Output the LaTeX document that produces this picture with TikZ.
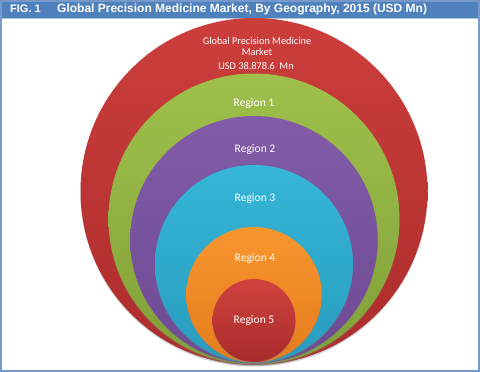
\documentclass[tikz,border=0pt]{standalone}
\usepackage{fontspec}
\setmainfont{Carlito}
\newfontfamily\headfont{Liberation Sans}
\usetikzlibrary{shadows,positioning}
\definecolor{headblue}{RGB}{79,129,189}
\definecolor{frameblue}{RGB}{118,152,202}
\definecolor{outtop}{RGB}{204,62,60}
\definecolor{outbot}{RGB}{172,44,44}
\definecolor{grntop}{RGB}{160,192,76}
\definecolor{grnbot}{RGB}{128,160,56}
\definecolor{purtop}{RGB}{130,92,168}
\definecolor{purbot}{RGB}{108,74,146}
\definecolor{cyntop}{RGB}{54,182,216}
\definecolor{cynbot}{RGB}{40,156,190}
\definecolor{orgtop}{RGB}{248,150,46}
\definecolor{orgbot}{RGB}{228,124,30}
\definecolor{r5top}{RGB}{208,66,62}
\definecolor{r5bot}{RGB}{168,44,44}

\begin{document}
\begin{tikzpicture}[x=1pt,y=-1pt,
  ring/.style={circle, draw=none, inner sep=0pt, minimum size=#1,
    drop shadow={opacity=0.35, shadow xshift=0pt, shadow yshift=-1.5pt}},
  lbl/.style={text=white, font=\fontsize{11.6}{13}\selectfont, align=center, inner sep=0pt},
  toplbl/.style={lbl, font=\fontsize{10.3}{11.5}\selectfont},
  headtxt/.style={text=white, font=\headfont\bfseries\fontsize{12}{14}\selectfont, anchor=west, inner sep=0pt}
]
\useasboundingbox (0,0) rectangle (480,372);
% frame and header
\fill[white] (0,0) rectangle (480,372);
\fill[headblue!45] (0,17) rectangle (480,19);
\fill[headblue] (0,0) rectangle (480,17.5);
\draw[frameblue, line width=1.6pt] (0.8,0.8) rectangle (479.2,371.2);
\node[headtxt, font=\headfont\bfseries\fontsize{11}{14}\selectfont] (fig) at (10,9) {FIG. 1};
\node[headtxt] (title) at (57,9) {Global Precision Medicine Market, By Geography, 2015 (USD Mn)};

% nested circles
\node[ring=347pt, top color=outtop, bottom color=outbot] (total) at (254,191.5) {};
\node[ring=291pt, top color=grntop, bottom color=grnbot] (reg1) at (254,219) {};
\node[ring=247.5pt, top color=purtop, bottom color=purbot] (reg2) at (254,239.75) {};
\node[ring=198pt, top color=cyntop, bottom color=cynbot] (reg3) at (254,264) {};
\node[ring=135.5pt, top color=orgtop, bottom color=orgbot] (reg4) at (254,294.75) {};
\node[ring=83pt, top color=r5top, bottom color=r5bot] (reg5) at (254,320.5) {};

% labels
\node[toplbl] (totaltxt) at (257,46.5) {Global Precision Medicine\\Market};
\node[toplbl] (totalval) at (256,67) {USD 38,878.6\ \ Mn};
\node[lbl] (reg1txt) at (254,104) {Region 1};
\node[lbl] (reg2txt) at (255,150) {Region 2};
\node[lbl] (reg3txt) at (255,199) {Region 3};
\node[lbl] (reg4txt) at (255,259) {Region 4};
\node[lbl] (reg5txt) at (254,321) {Region 5};
\end{tikzpicture}
\end{document}
